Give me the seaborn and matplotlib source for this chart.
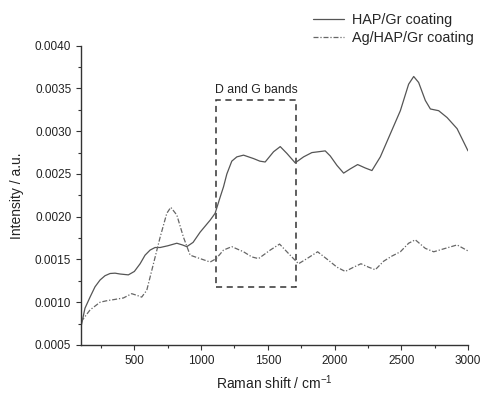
import matplotlib
matplotlib.use("Agg")
import matplotlib.pyplot as plt
from matplotlib.patches import Rectangle
from matplotlib.ticker import MultipleLocator, FormatStrFormatter
import numpy as np
import pandas as pd
import seaborn as sns

# HAP/Gr coating
shift_hap = [100, 130, 168, 205, 243, 280, 318, 355, 393, 455, 500, 543, 580, 618, 655,
             693, 750, 818, 860, 893, 940, 993, 1068, 1105, 1143, 1168, 1193, 1230, 1268,
             1318, 1393, 1440, 1480, 1543, 1593, 1643, 1705, 1768, 1830, 1880, 1930, 1968,
             2018, 2068, 2118, 2173, 2230, 2280, 2343, 2418, 2493, 2555, 2593, 2630, 2680,
             2718, 2780, 2843, 2918, 3000]
int_hap = [0.00071, 0.00093, 0.00106, 0.00118, 0.00126, 0.00131, 0.001336, 0.00134, 0.00133,
           0.00132, 0.00136, 0.00145, 0.00155, 0.00161, 0.00164, 0.00164, 0.00166, 0.00169,
           0.00167, 0.00165, 0.00170, 0.00182, 0.00196, 0.00204, 0.00223, 0.00235, 0.00250,
           0.00265, 0.00270, 0.00272, 0.00268, 0.00265, 0.00264, 0.00276, 0.00282, 0.00274,
           0.00263, 0.00270, 0.00275, 0.00276, 0.00277, 0.00271, 0.00260, 0.00251, 0.00256,
           0.00261, 0.00257, 0.00254, 0.00270, 0.00297, 0.00324, 0.00355, 0.00364, 0.00357,
           0.00336, 0.00326, 0.00324, 0.00316, 0.00303, 0.00277]

# Ag/HAP/Gr coating
shift_ag = [100, 168, 243, 300, 343, 418, 480, 520, 555, 593, 643, 693, 743, 773, 818, 868,
            918, 993, 1068, 1113, 1168, 1230, 1318, 1380, 1430, 1518, 1588, 1655, 1730, 1793,
            1873, 1955, 2018, 2080, 2143, 2198, 2255, 2305, 2368, 2430, 2493, 2555, 2605,
            2680, 2743, 2830, 2918, 3000]
int_ag = [0.00077, 0.00091, 0.00100, 0.00102, 0.00103, 0.00105, 0.00110, 0.00108, 0.00106,
          0.00114, 0.00145, 0.00176, 0.00204, 0.00211, 0.00202, 0.00176, 0.00155, 0.00151,
          0.00147, 0.00151, 0.00161, 0.00165, 0.00159, 0.00153, 0.00151, 0.00161, 0.00168,
          0.00157, 0.00145, 0.00151, 0.00159, 0.00149, 0.00141, 0.00136, 0.00141, 0.00145,
          0.00141, 0.00138, 0.00148, 0.00154, 0.00159, 0.00169, 0.00173, 0.00163, 0.00159,
          0.00163, 0.00167, 0.00160]

# D and G band region
band_x = [1113, 1713]
band_y = [0.00118, 0.00336]

sns.set_style("ticks")
plt.rcParams['font.family'] = ['Liberation Sans', 'DejaVu Sans']
plt.rcParams['mathtext.fontset'] = 'custom'
plt.rcParams['mathtext.rm'] = 'Liberation Sans'

fig = plt.figure(figsize=(4.82, 3.94), dpi=100)
ax = fig.add_axes([0.168, 0.1244, 0.803, 0.7596])

hap = pd.DataFrame({'shift': shift_hap, 'intensity': int_hap})
ag = pd.DataFrame({'shift': shift_ag, 'intensity': int_ag})

sns.lineplot(data=hap, x='shift', y='intensity', color='#555555', lw=0.9,
             label='HAP/Gr coating', ax=ax, legend=False)
sns.lineplot(data=ag, x='shift', y='intensity', color='#666666', lw=0.9,
             label='Ag/HAP/Gr coating', ax=ax, legend=False)
ax.lines[1].set_linestyle((0, (4, 1.5, 1, 1.5)))

ax.add_patch(Rectangle((band_x[0], band_y[0]), band_x[1] - band_x[0], band_y[1] - band_y[0],
                       fill=False, ls=(0, (4, 3)), lw=1.1, ec='#333333'))
ax.text((band_x[0] + band_x[1]) / 2, band_y[1] + 0.00005, 'D and G bands',
        ha='center', va='bottom', fontsize=8.8, color='#222222')

ax.set_xlim(100, 3000)
ax.set_ylim(0.0005, 0.0040)
ax.xaxis.set_major_locator(MultipleLocator(500))
ax.xaxis.set_minor_locator(MultipleLocator(250))
ax.yaxis.set_major_locator(MultipleLocator(0.0005))
ax.yaxis.set_minor_locator(MultipleLocator(0.00025))
ax.yaxis.set_major_formatter(FormatStrFormatter('%.4f'))
ax.tick_params(which='major', direction='out', length=3.5, width=0.8, labelsize=8.5,
               colors='#333333', labelcolor='#222222')
ax.tick_params(which='minor', direction='out', length=2, width=0.8, colors='#333333')
sns.despine(ax=ax)
for s in ['left', 'bottom']:
    ax.spines[s].set_color('#333333')
    ax.spines[s].set_linewidth(1.0)

ax.set_xlabel('Raman shift / cm$^{-1}$', fontsize=10, color='#222222', labelpad=5)
ax.set_ylabel('Intensity / a.u.', fontsize=10, color='#222222', labelpad=8)

h, l = ax.get_legend_handles_labels()
fig.legend(h, l, loc='upper right', bbox_to_anchor=(1.0, 0.99), frameon=False,
           fontsize=10.4, handlelength=2.2, handletextpad=0.5, labelspacing=0.3,
           borderaxespad=0.2)

fig.savefig('out.png', dpi=100)
